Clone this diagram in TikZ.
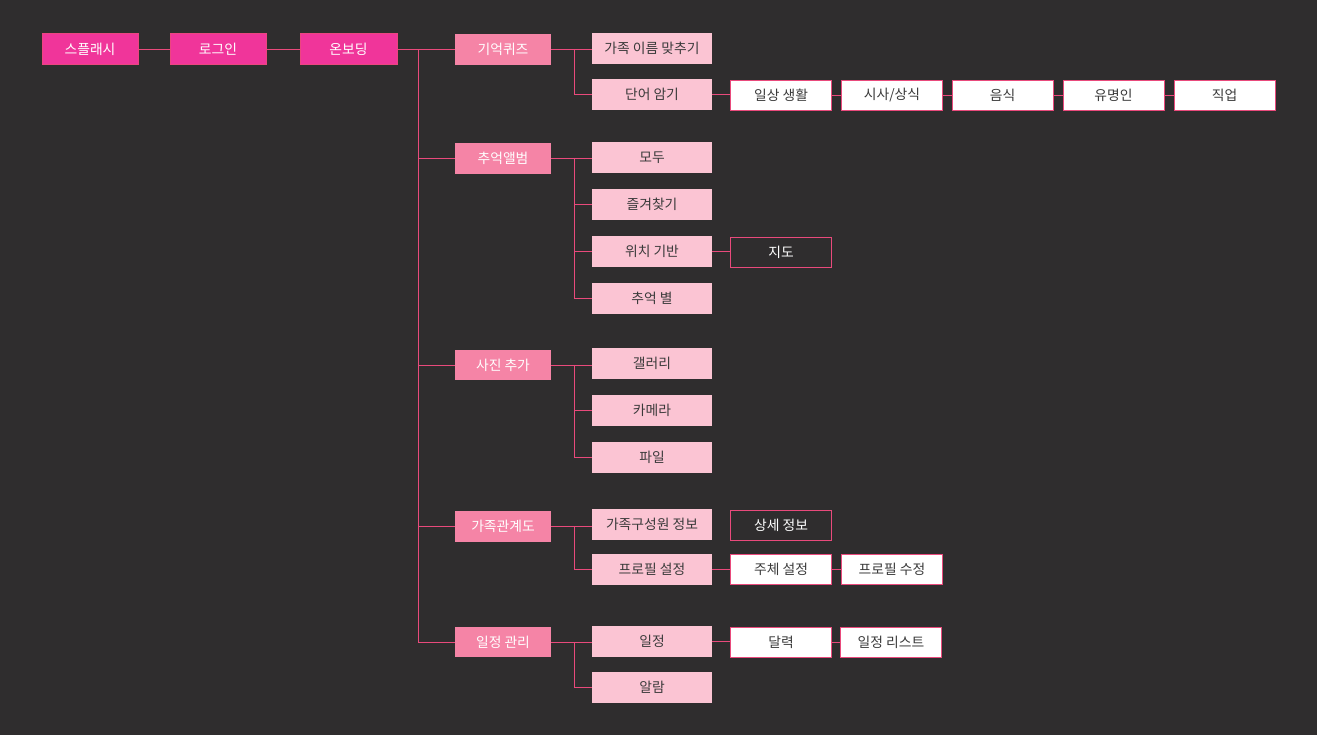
\documentclass[tikz,border=0pt]{standalone}
\usepackage{fontspec}
\newfontfamily\kr{Noto Sans CJK KR}
\definecolor{bg}{HTML}{2F2D2E}
\definecolor{mag}{HTML}{F0359A}
\definecolor{magb}{HTML}{EC4580}
\definecolor{cat}{HTML}{F584A6}
\definecolor{lite}{HTML}{FBC4D3}
\definecolor{ln}{HTML}{E94A7C}
\definecolor{txt}{HTML}{3A3A3A}
\tikzset{
  box/.style={anchor=center, inner sep=0pt, font=\kr\fontsize{13.8}{16}\selectfont},
  topbox/.style={box, fill=mag, draw=magb, line width=1pt, text=white, minimum width=96pt, minimum height=31pt},
  catbox/.style={box, fill=cat, text=white, minimum width=96pt, minimum height=31pt},
  subbox/.style={box, fill=lite, text=txt, minimum width=120pt, minimum height=31pt},
  leafbox/.style={box, fill=white, draw=ln, line width=1pt, text=txt, minimum width=101pt, minimum height=30pt},
  darkbox/.style={box, fill=bg, draw=ln, line width=1pt, text=white, minimum width=101pt, minimum height=30pt},
  conn/.style={draw=ln, line width=1pt}
}
\begin{document}
\begin{tikzpicture}[x=1pt,y=-1pt]
\fill[bg] (0,0) rectangle (1317,735);
\useasboundingbox (0,0) rectangle (1317,735);
% top row
\node[topbox] (splash) at (90,49.5) {스플래시};
\node[topbox] (login) at (218,49.5) {로그인};
\node[topbox, minimum width=97pt] (onb) at (348.5,49.5) {온보딩};
% categories
\node[catbox] (quiz) at (503,49.5) {기억퀴즈};
\node[catbox] (album) at (503,158.5) {추억앨범};
\node[catbox, minimum height=30pt] (photo) at (503,365) {사진 추가};
\node[catbox] (family) at (503,526.5) {가족관계도};
\node[catbox, minimum height=30pt] (sched) at (503,642) {일정 관리};
% quiz
\node[subbox] (q1) at (652,48.5) {가족 이름 맞추기};
\node[subbox] (q2) at (652,94.5) {단어 암기};
\node[leafbox] (w1) at (781,95.5) {일상 생활};
\node[leafbox] (w2) at (892,95.5) {시사/상식};
\node[leafbox] (w3) at (1002.5,95.5) {음식};
\node[leafbox] (w4) at (1113.5,95.5) {유명인};
\node[leafbox] (w5) at (1224.5,95.5) {직업};
% album
\node[subbox] (a1) at (652,157.5) {모두};
\node[subbox] (a2) at (652,204.5) {즐겨찾기};
\node[subbox] (a3) at (652,251.5) {위치 기반};
\node[darkbox] (map) at (781,252.5) {지도};
\node[subbox] (a4) at (652,298.5) {추억 별};
% photo
\node[subbox] (p1) at (652,363.5) {갤러리};
\node[subbox] (p2) at (652,410.5) {카메라};
\node[subbox] (p3) at (652,457.5) {파일};
% family
\node[subbox] (f1) at (652,524.5) {가족구성원 정보};
\node[darkbox] (detail) at (781,525.5) {상세 정보};
\node[subbox] (f2) at (652,569.5) {프로필 설정};
\node[leafbox] (subj) at (781,569.5) {주체 설정};
\node[leafbox] (prof) at (892,569.5) {프로필 수정};
% schedule
\node[subbox] (s1) at (652,641.5) {일정};
\node[leafbox] (cal) at (781,642.5) {달력};
\node[leafbox] (list) at (891,642.5) {일정 리스트};
\node[subbox] (s2) at (652,687.5) {알람};
% top connectors
\draw[conn] (splash.east) -- (login.west);
\draw[conn] (login.east) -- (onb.west);
\draw[conn] (onb.east) -- (quiz.west);
% trunk
\coordinate (tr) at (418,49.5);
\draw[conn] (tr) -- (tr |- sched.west);
\foreach \c in {album,photo,family,sched} \draw[conn] (tr |- \c.west) -- (\c.west);
% subtrees
\coordinate (qx) at (574,49.5);
\draw[conn] (quiz.east) -- (q1.west |- quiz.east);
\draw[conn] (qx) |- (q2.west);
\draw[conn] (q2.east) -- (w1.west |- q2.east);
\draw[conn] (w1.east) -- (w2.west);
\draw[conn] (w2.east) -- (w3.west);
\draw[conn] (w3.east) -- (w4.west);
\draw[conn] (w4.east) -- (w5.west);
\coordinate (ax) at (574,158.5);
\draw[conn] (album.east) -- (a1.west |- album.east);
\draw[conn] (ax) |- (a4.west);
\foreach \c in {a2,a3} \draw[conn] (ax |- \c.west) -- (\c.west);
\draw[conn] (a3.east) -- (map.west |- a3.east);
\coordinate (px) at (574,365);
\draw[conn] (photo.east) -- (p1.west |- photo.east);
\draw[conn] (px) |- (p3.west);
\draw[conn] (px |- p2.west) -- (p2.west);
\coordinate (fx) at (574,526.5);
\draw[conn] (family.east) -- (f1.west |- family.east);
\draw[conn] (fx) |- (f2.west);
\draw[conn] (f2.east) -- (subj.west);
\draw[conn] (subj.east) -- (prof.west);
\coordinate (sx) at (574,642);
\draw[conn] (sched.east) -- (s1.west |- sched.east);
\draw[conn] (sx) |- (s2.west);
\draw[conn] (s1.east) -- (cal.west |- s1.east);
\draw[conn] (cal.east) -- (list.west);
\end{tikzpicture}
\end{document}
